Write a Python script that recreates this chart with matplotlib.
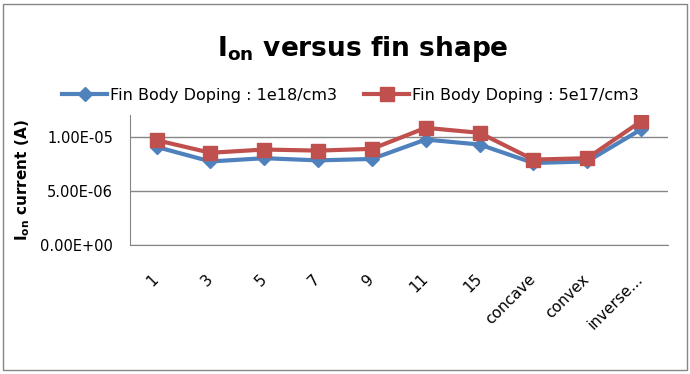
import matplotlib
matplotlib.use("Agg")
import matplotlib.pyplot as plt
from matplotlib.patches import Rectangle
from matplotlib.transforms import ScaledTranslation

categories = ["1", "3", "5", "7", "9", "11", "15", "concave", "convex", "inverse..."]
doping_1e18 = [9.04e-6, 7.70e-6, 8.00e-6, 7.80e-6, 7.93e-6, 9.72e-6, 9.26e-6, 7.56e-6, 7.70e-6, 1.065e-5]
doping_5e17 = [9.66e-6, 8.50e-6, 8.80e-6, 8.70e-6, 8.86e-6, 1.08e-5, 1.034e-5, 7.87e-6, 8.00e-6, 1.14e-5]
yticks = [0, 5e-6, 1e-5]
ytick_labels = ["0.00E+00", "5.00E-06", "1.00E-05"]

plt.rcParams["font.family"] = "DejaVu Sans"

fig = plt.figure(figsize=(6.9, 3.74), dpi=100)
ax = fig.add_axes([0.188, 0.345, 0.78, 0.348])

x = range(len(categories))
ax.plot(x, doping_1e18, color="#4F81BD", lw=3, marker="D", ms=7.5,
        label="Fin Body Doping : 1e18/cm3")
ax.plot(x, doping_5e17, color="#C0504D", lw=3, marker="s", ms=10,
        label="Fin Body Doping : 5e17/cm3")

ax.set_xlim(-0.5, len(categories) - 0.5)
ax.set_ylim(0, 1.2e-5)
ax.set_yticks(yticks)
ax.set_yticklabels(ytick_labels, fontsize=10.5)
ax.tick_params(axis="y", length=0, pad=12)
ax.set_xticks(list(x))
ax.set_xticklabels(categories, rotation=45, ha="right", rotation_mode="anchor", fontsize=11)
ax.tick_params(axis="x", length=0, pad=14)
# nudge rotated labels so their ends sit just right of each category
shift = ScaledTranslation(-4 / 72, -5 / 72, fig.dpi_scale_trans)
for lbl in ax.get_xticklabels():
    lbl.set_transform(lbl.get_transform() + shift)
ax.grid(axis="y", color="#868686", lw=1)
ax.set_axisbelow(True)
for side in ("top", "right"):
    ax.spines[side].set_visible(False)
ax.spines["bottom"].set_color("#868686")
ax.spines["left"].set_color("#868686")

ax.set_ylabel(r"I$_{\mathbf{on}}$ current (A)", fontsize=11, fontweight="bold", labelpad=6)
fig.text(0.526, 0.87, r"I$_{\mathbf{on}}$ versus fin shape", fontsize=19,
         fontweight="bold", ha="center", va="center")
fig.legend(loc="center", bbox_to_anchor=(0.508, 0.745), ncol=2, frameon=False,
           fontsize=11.5, handlelength=2.8, columnspacing=1.7, handletextpad=0.2)

fig.patches.append(Rectangle((0.005, 0.01), 0.99, 0.98, transform=fig.transFigure,
                             fill=False, edgecolor="#868686", lw=1))

fig.savefig("out.png", dpi=100)
